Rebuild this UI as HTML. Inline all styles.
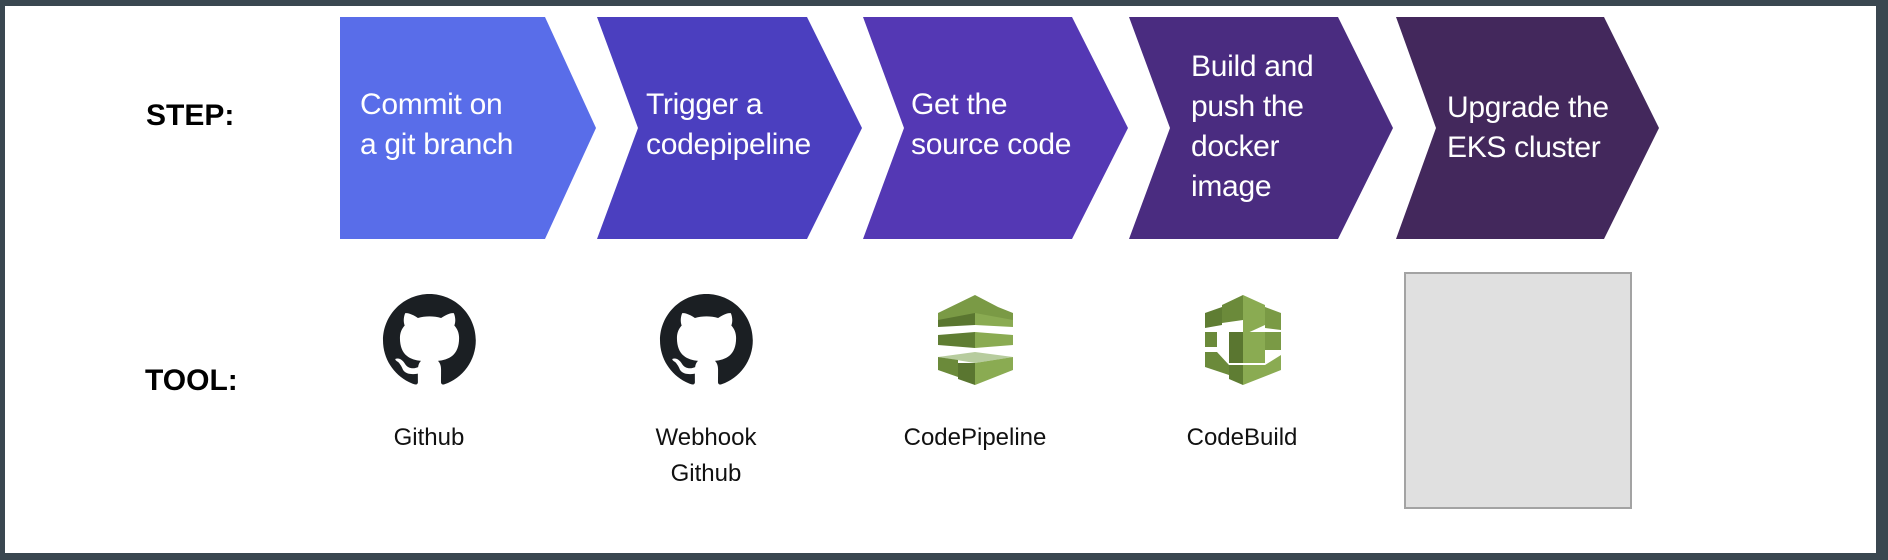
<!DOCTYPE html>
<html><head><meta charset="utf-8"><style>
html,body{margin:0;padding:0}
body{width:1888px;height:560px;background:#3a4750;position:relative;overflow:hidden;font-family:"Liberation Sans",sans-serif}
#w{position:absolute;left:5px;top:6px;width:1871px;height:547px;background:#fff}
.t{position:absolute;color:#fff;font-size:30px;line-height:40px;letter-spacing:-0.3px}
.lab{position:absolute;font-size:24px;line-height:36px;text-align:center;color:#111;width:200px}
.hd{position:absolute;font-weight:bold;font-size:30px;color:#000}
</style></head><body>
<div id="w"></div>
<svg width="1888" height="560" style="position:absolute;left:0;top:0">
<polygon points="340,17 545,17 596,128 545,239 340,239" fill="#596de9"/>
<polygon points="597,17 807,17 862,128 807,239 597,239 638,128" fill="#4b3fbf"/>
<polygon points="863,17 1072,17 1128,128 1072,239 863,239 904,128" fill="#5438b4"/>
<polygon points="1129,17 1338,17 1393,128 1338,239 1129,239 1170,128" fill="#4a2c80"/>
<polygon points="1396,17 1604,17 1659,128 1604,239 1396,239 1436,128" fill="#43285c"/>
<rect x="1405" y="273" width="226" height="235" fill="#e0e0e0" stroke="#a3a3a3" stroke-width="2"/>
<g transform="translate(383,294) scale(5.8)">
<path fill="#1b1f23" d="M8 0C3.58 0 0 3.58 0 8c0 3.54 2.29 6.53 5.47 7.59.4.07.55-.17.55-.38 0-.19-.01-.82-.01-1.49-2.01.37-2.53-.49-2.69-.94-.09-.23-.48-.94-.82-1.13-.28-.15-.68-.52-.01-.53.63-.01 1.08.58 1.23.82.72 1.21 1.87.87 2.33.66.07-.52.28-.87.51-1.07-1.78-.2-3.64-.89-3.64-3.95 0-.87.31-1.59.82-2.15-.08-.2-.36-1.02.08-2.12 0 0 .67-.21 2.2.82.64-.18 1.32-.27 2-.27.68 0 1.36.09 2 .27 1.53-1.04 2.2-.82 2.2-.82.44 1.1.16 1.92.08 2.12.51.56.82 1.27.82 2.15 0 3.07-1.87 3.75-3.65 3.95.29.25.54.73.54 1.48 0 1.07-.01 1.93-.01 2.2 0 .21.15.46.55.38A8.013 8.013 0 0016 8c0-4.42-3.58-8-8-8z"/></g>
<g transform="translate(660,294) scale(5.8)">
<path fill="#1b1f23" d="M8 0C3.580 0 0 3.58 0 8c0 3.54 2.29 6.53 5.47 7.590.4.07.55-.17.55-.38 0-.19-.01-.82-.01-1.49-2.01.37-2.53-.49-2.69-.94-.09-.23-.48-.94-.82-1.13-.28-.15-.68-.52-.01-.53.63-.01 1.08.58 1.23.82.72 1.21 1.87.87 2.33.66.07-.52.28-.87.51-1.07-1.78-.2-3.64-.89-3.64-3.95 0-.87.31-1.59.82-2.15-.08-.2-.36-1.02.08-2.12 0 0 .67-.21 2.2.82.64-.18 1.32-.27 2-.27.68 0 1.36.09 2 .27 1.53-1.04 2.2-.82 2.2-.82.44 1.1.16 1.920.08 2.12.51.56.82 1.27.82 2.15 0 3.07-1.87 3.75-3.65 3.95.29.25.54.73.54 1.48 0 1.07-.01 1.93-.01 2.2 0 .21.15.46.55.38A8.013 8.013 0 0016 8c0-4.42-3.58-8-8-8z"/></g>
<!-- CodePipeline -->
<g transform="translate(938,295)">
<polygon points="0,18 37,0 60,12 75,18 75,30 37,27 0,30" fill="#7a9a45"/>
<polygon points="0,25 37,18 37,30 0,32" fill="#5a7630"/>
<polygon points="37,18 75,25 75,32 37,30" fill="#8aab52"/>
<polygon points="0,40 37,37 37,53 0,50" fill="#5f7d33"/>
<polygon points="37,37 75,40 75,50 37,53" fill="#8aab52"/>
<polygon points="0,62 37,57 75,62 37,68" fill="#b7cc9e"/>
<polygon points="0,62 20,65 20,82 0,75" fill="#6b8a3a"/>
<polygon points="20,68 37,68 37,90 20,84" fill="#5a7630"/>
<polygon points="37,68 75,62 75,75 37,90" fill="#8aab52"/>
</g>
<!-- CodeBuild -->
<g transform="translate(1205,295)">
<polygon points="38,0 60,10 60,30 38,40" fill="#8aab52"/>
<polygon points="38,0 17,10 17,28 38,25" fill="#6b8a3a"/>
<polygon points="0,18 17,12 17,30 0,33" fill="#5f7d33"/>
<polygon points="60,12 76,18 76,35 60,33" fill="#7a9a45"/>
<polygon points="0,37 12,37 12,52 0,52" fill="#6b8a3a"/>
<polygon points="24,37 38,37 38,68 24,68" fill="#5a7630"/>
<polygon points="38,37 60,37 60,68 38,68" fill="#8aab52"/>
<polygon points="60,37 76,37 76,55 60,55" fill="#7a9a45"/>
<polygon points="0,57 12,57 24,70 24,80 0,72" fill="#6b8a3a"/>
<polygon points="24,70 38,70 38,90 24,84" fill="#5f7d33"/>
<polygon points="38,70 60,70 76,60 76,75 38,90" fill="#8aab52"/>
</g>
</svg>
<div class="hd" style="left:146px;top:99px">STEP:</div>
<div class="hd" style="left:145px;top:364px">TOOL:</div>
<div class="t" style="left:360px;top:85px">Commit on<br>a git branch</div>
<div class="t" style="left:646px;top:85px">Trigger a<br>codepipeline</div>
<div class="t" style="left:911px;top:85px">Get the<br>source code</div>
<div class="t" style="left:1191px;top:47px">Build and<br>push the<br>docker<br>image</div>
<div class="t" style="left:1447px;top:88px">Upgrade the<br>EKS cluster</div>
<div class="lab" style="left:329px;top:420px">Github</div>
<div class="lab" style="left:606px;top:420px">Webhook<br>Github</div>
<div class="lab" style="left:875px;top:420px">CodePipeline</div>
<div class="lab" style="left:1142px;top:420px">CodeBuild</div>
</body></html>
